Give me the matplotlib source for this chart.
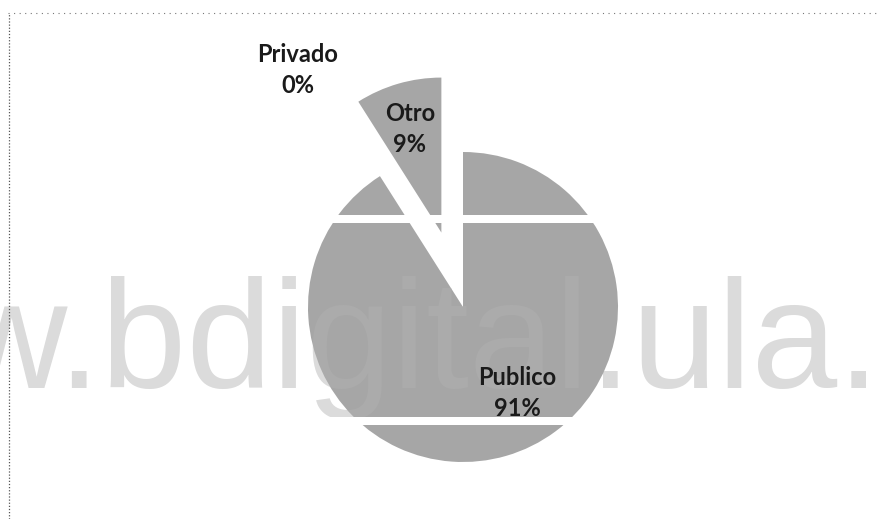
import matplotlib.pyplot as plt
from matplotlib.lines import Line2D

# datos del grafico (porcentajes)
labels = ["Publico", "Privado", "Otro"]
values = [91, 0, 9]
explode = [0, 0, 0.5]

watermark = "w.bdigital.ula."

W, H = 880, 519
fig = plt.figure(figsize=(W / 100, H / 100), dpi=100)
ax = fig.add_axes([0, 0, 1, 1])

cx, cy, r = 463, H - 307, 155
# explode de matplotlib va en unidades de datos, no en fraccion del radio
wedges, _ = ax.pie(
    values,
    startangle=90,
    counterclock=False,
    explode=[e * r for e in explode],
    center=(cx, cy),
    radius=r,
    colors=["#a6a6a6"] * len(values),
    wedgeprops=dict(linewidth=0, zorder=2),
    frame=True,
)
ax.set_xlim(0, W)
ax.set_ylim(0, H)
ax.axis("off")

# posiciones de las etiquetas (como en Excel)
label_pos = [(517, H - 393), (298, H - 70), (410, H - 129)]
for name, v, (x, y) in zip(labels, values, label_pos):
    ax.text(x, y, f"{name}\n{v}%", ha="center", va="center",
            fontsize=17, family="Lato", weight="bold", color="#1a1a1a",
            linespacing=1.4, zorder=5)

# franjas blancas del escaneo
for y0, y1 in [(215, 223), (417, 425)]:
    ax.axhspan(H - y1, H - y0, color="white", lw=0, zorder=3)

# marca de agua: gris claro detras, apenas visible sobre la torta
ax.text(880, H - 388, watermark, ha="right", va="baseline",
        fontsize=111, family="Liberation Sans", color="#d9d9d9", zorder=1)
ax.text(880, H - 388, watermark, ha="right", va="baseline",
        fontsize=111, family="Liberation Sans", color="white",
        alpha=0.06, zorder=4)

# borde punteado del grafico
fig.add_artist(Line2D([8 / W, 1], [1 - 13 / H, 1 - 13 / H], transform=fig.transFigure,
                      color="#777777", lw=0.8, ls=(0, (1, 4))))
fig.add_artist(Line2D([8.5 / W, 8.5 / W], [0, 1 - 13 / H], transform=fig.transFigure,
                      color="#555555", lw=0.9, ls=(0, (1, 1.5))))

fig.savefig("out.png", dpi=100)
